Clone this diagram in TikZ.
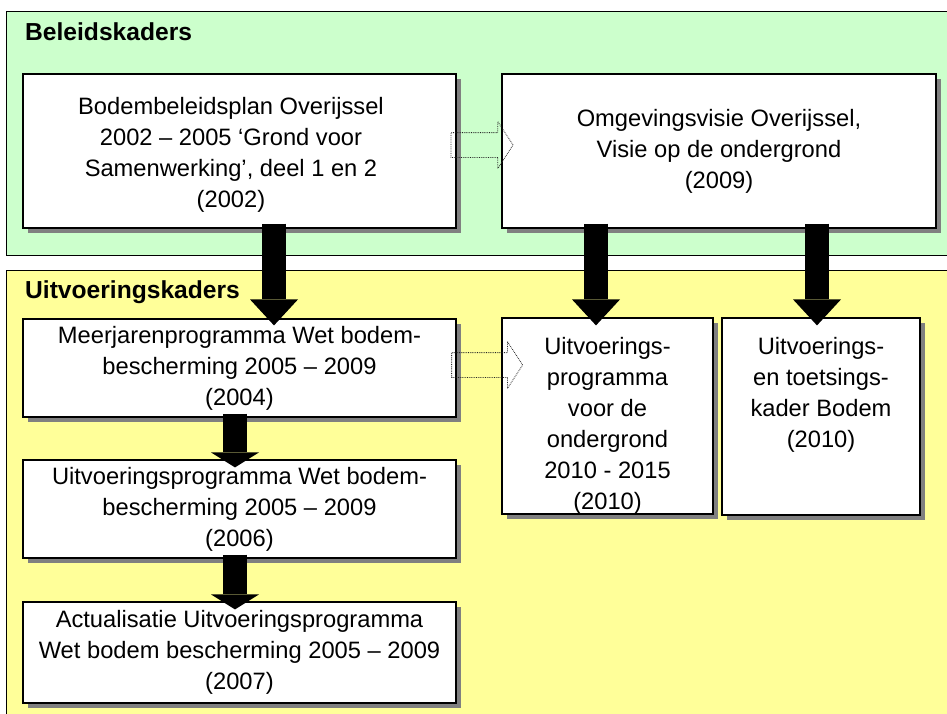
\documentclass[tikz,border=0pt]{standalone}
\usepackage{fontspec}
\setmainfont{Liberation Sans}
\usetikzlibrary{arrows.meta,shadows,shapes.arrows,calc}
\definecolor{Kgreen}{HTML}{CCFFCC}
\definecolor{Kyellow}{HTML}{FFFF99}
\tikzset{%
    Kbox/.style={draw=black, line width=1.2pt, fill=white, align=center, inner sep=0pt,
        font=\fontsize{23.7pt}{31pt}\selectfont,
        drop shadow={shadow xshift=5pt, shadow yshift=-5pt, fill=black!50, opacity=1}},
    Ktext/.style={align=center, inner sep=0pt, font=\fontsize{23.7pt}{31pt}\selectfont},
    Ktitle/.style={anchor=west, inner sep=0pt, font=\fontsize{24.6pt}{28pt}\selectfont\bfseries},
    Kblock/.style={line width=24pt, -{Triangle[length=#1, width=48pt, line width=0pt]}}, Kblock/.default={26pt},
    Khollow/.style={single arrow, draw=black!85, densely dotted, line width=0.8pt,
        inner xsep=0pt, inner ysep=12pt, single arrow head extend=11pt, single arrow tip angle=114}
}

\begin{document}
\begin{tikzpicture}[x=1pt,y=-1pt]
    \useasboundingbox (0,0) rectangle (947,713);

    % the two bands
    \draw [fill=Kgreen, line width=0.8pt] (6,11) rectangle (960,255);
    \draw [fill=Kyellow, line width=0.8pt] (6,270) rectangle (960,725);
    \node (Tbeleid) [Ktitle] at (25,32) {Beleidskaders};
    \node (Tuitvoer) [Ktitle] at (25,292) {Uitvoeringskaders};

    % boxes
    \node (Nbodem) [Kbox, minimum width=433pt, minimum height=154pt] at (239.5,151) {};
    \node (Nbodemtxt) [Ktext] at (231,155)
        {Bodembeleidsplan Overijssel\\2002 – 2005 ‘Grond voor\\Samenwerking’, deel 1 en 2\\(2002)};
    \node (Nomgeving) [Kbox, minimum width=434pt, minimum height=154pt] at (719,151)
        {Omgevingsvisie Overijssel,\\Visie op de ondergrond\\(2009)};
    \node (Nmeer) [Kbox, minimum width=433pt, minimum height=98pt] at (239.5,368)
        {Meerjarenprogramma Wet bodem-\\bescherming 2005 – 2009\\(2004)};
    \node (Nuitv) [Kbox, minimum width=433pt, minimum height=98pt] at (239.5,509)
        {Uitvoeringsprogramma Wet bodem-\\bescherming 2005 – 2009\\(2006)};
    \node (Nactual) [Kbox, minimum width=433pt, minimum height=101pt] at (239.5,652.5)
        {Actualisatie Uitvoeringsprogramma\\Wet bodem bescherming 2005 – 2009\\(2007)};
    \node (Nondergrond) [Kbox, minimum width=211pt, minimum height=196pt] at (607.5,416) {};
    \node (Nondergrondtxt) [Ktext] at (607.5,426)
        {Uitvoerings-\\programma\\voor de\\ondergrond\\2010 - 2015\\(2010)};
    \node (Nkader) [Kbox, minimum width=198pt, minimum height=197pt] at (821,416.5) {};
    \node (Nkadertxt) [Ktext] at (821,395)
        {Uitvoerings-\\en toetsings-\\kader Bodem\\(2010)};

    % block arrows
    \draw [Kblock] ([xshift=34.5pt,yshift=5pt]Nbodem.south) -- ([xshift=34.5pt,yshift=-7pt]Nmeer.north);
    \draw [Kblock] ([xshift=-123pt,yshift=5pt]Nomgeving.south) -- ([xshift=-11.5pt,yshift=-8pt]Nondergrond.north);
    \draw [Kblock] ([xshift=98pt,yshift=5pt]Nomgeving.south) -- ([xshift=-4pt,yshift=-8pt]Nkader.north);
    \draw [Kblock=15pt] ([xshift=-4.5pt,yshift=4pt]Nmeer.south) -- ([xshift=-4.5pt,yshift=-8pt]Nuitv.north);
    \draw [Kblock=15pt] ([xshift=-4.5pt,yshift=4pt]Nuitv.south) -- ([xshift=-4.5pt,yshift=-8pt]Nactual.north);

    % dotted hollow arrows
    \node (Hbodem) [Khollow, minimum height=62pt] at ($(Nbodem.east)!.5!(Nomgeving.west)+(-1,-6)$) {};
    \node (Hmeer) [Khollow, minimum height=71pt] at ($(Nmeer.east)+(26.5,-3)$) {};
\end{tikzpicture}
\end{document}
